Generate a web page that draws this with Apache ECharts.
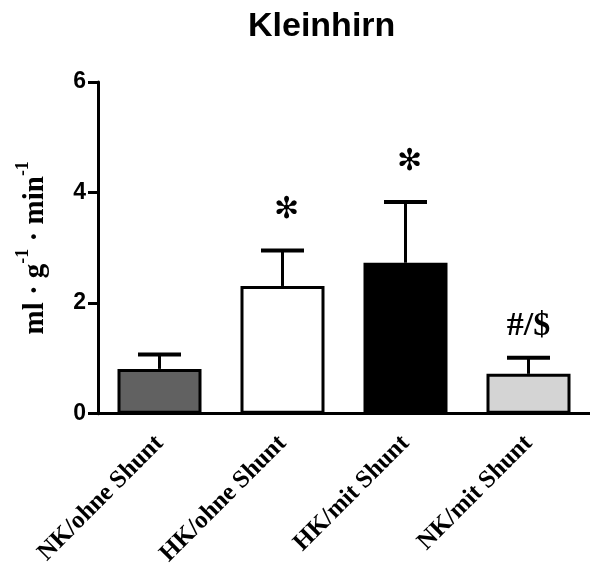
<!DOCTYPE html>
<html>
<head>
<meta charset="utf-8">
<script src="https://cdn.jsdelivr.net/npm/echarts@6/dist/echarts.min.js"></script>
<style>html,body{margin:0;padding:0;background:#fff;}#chart{width:590px;height:569px;}</style>
</head>
<body>
<div id="chart"></div>
<script>
var categories = ['NK/ohne Shunt', 'HK/ohne Shunt', 'HK/mit Shunt', 'NK/mit Shunt'];
var means = [0.81, 2.31, 2.73, 0.72];
var errors = [0.26, 0.64, 1.10, 0.29];
var annotations = ['', '✻', '✻', '#/$'];
var barColors = ['#616161', '#ffffff', '#000000', '#d4d4d4'];
var yTicks = [0, 2, 4, 6];

var chart = echarts.init(document.getElementById('chart'));
var barData = means.map(function (v, i) {
  return { value: v, itemStyle: { color: barColors[i] } };
});
var errData = means.map(function (v, i) { return [i, v, errors[i]]; });
var annData = means.map(function (v, i) { return [i, v + errors[i], annotations[i]]; });

chart.setOption({
  animation: false,
  title: {
    text: 'Kleinhirn',
    left: 243, top: 5,
    textStyle: { fontFamily: 'Liberation Sans', fontWeight: 'bold', fontSize: 34, color: '#000' }
  },
  grid: { left: 98, top: 82, width: 500, height: 333 },
  xAxis: {
    type: 'category',
    data: categories,
    axisLine: { lineStyle: { color: '#000', width: 3 } },
    axisTick: { alignWithLabel: true, length: 8, lineStyle: { width: 3, color: '#000' } },
    axisLabel: {
      rotate: 45, margin: 26, interval: 0,
      fontFamily: 'Liberation Serif', fontWeight: 'bold', fontSize: 25, color: '#000'
    },
    splitLine: { show: false }
  },
  yAxis: {
    type: 'value', min: 0, max: 6, interval: 2,
    axisLine: { show: true, lineStyle: { color: '#000', width: 3 } },
    axisTick: { show: true, length: 10, lineStyle: { width: 3, color: '#000' } },
    axisLabel: {
      margin: 12, fontFamily: 'Liberation Sans', fontWeight: 'bold', fontSize: 23, color: '#000',
      formatter: function (v) { return yTicks.indexOf(v) >= 0 ? String(v) : ''; }
    },
    splitLine: { show: false },
    name: '{b|ml · g}{s|-1}{b| · min}{s|-1}',
    nameLocation: 'middle',
    nameRotate: 90,
    nameGap: 48,
    nameTextStyle: {
      rich: {
        b: { fontFamily: 'Liberation Serif', fontWeight: 'bold', fontSize: 29, color: '#000', lineHeight: 36, verticalAlign: 'bottom' },
        s: { fontFamily: 'Liberation Serif', fontWeight: 'bold', fontSize: 18, color: '#000', lineHeight: 36, verticalAlign: 'top' }
      }
    }
  },
  series: [
    {
      type: 'bar',
      data: barData,
      barWidth: 84,
      itemStyle: { borderColor: '#000', borderWidth: 3 },
      z: 3
    },
    {
      type: 'custom',
      data: errData,
      z: 2,
      renderItem: function (params, api) {
        var x = api.value(0), m = api.value(1), e = api.value(2);
        var p0 = api.coord([x, m]);
        var p1 = api.coord([x, m + e]);
        var hw = 21.5;
        return {
          type: 'group',
          children: [
            { type: 'line', shape: { x1: p0[0], y1: p0[1], x2: p1[0], y2: p1[1] }, style: { stroke: '#000', lineWidth: 3 } },
            { type: 'line', shape: { x1: p1[0] - hw, y1: p1[1], x2: p1[0] + hw, y2: p1[1] }, style: { stroke: '#000', lineWidth: 4 } }
          ]
        };
      }
    },
    {
      type: 'custom',
      data: annData,
      z: 4,
      renderItem: function (params, api) {
        var x = api.value(0), t = api.value(1);
        var txt = annotations[params.dataIndex];
        var p = api.coord([x, t]);
        var isStar = txt === '✻';
        return {
          type: 'text',
          x: p[0] + (isStar ? 4 : 0),
          y: p[1] - (isStar ? 40 : 32),
          style: {
            text: txt,
            textAlign: 'center',
            textVerticalAlign: 'middle',
            fill: '#000',
            fontFamily: isStar ? 'DejaVu Sans' : 'Liberation Serif',
            fontWeight: isStar ? 'normal' : 'bold',
            fontSize: isStar ? 30 : 34
          }
        };
      }
    }
  ]
});
</script>
</body>
</html>
